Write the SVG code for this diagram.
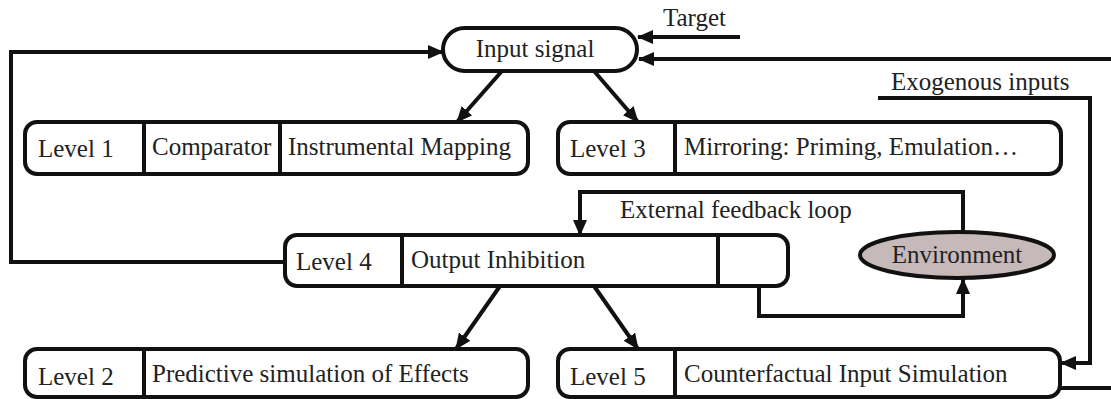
<svg xmlns="http://www.w3.org/2000/svg" width="1111" height="399" viewBox="0 0 1111 399">
  <style>
    .box { fill: #ffffff; stroke: #111111; stroke-width: 4; }
    .div { stroke: #111111; stroke-width: 4; fill: none; }
    .line { stroke: #111111; stroke-width: 4; fill: none; stroke-linejoin: miter; }
    .arr { marker-end: url(#head); }
    .env { fill: #c5b9ba; stroke: #111111; stroke-width: 4; }
    text { font-family: "Liberation Serif", "Times New Roman", serif; font-size: 25px; fill: #222222; }
  </style>
  <defs>
    <marker id="head" markerUnits="userSpaceOnUse" markerWidth="16" markerHeight="14" refX="15" refY="7" orient="auto">
      <path d="M0,0 L16,7 L0,14 z" fill="#111111"/>
    </marker>
  </defs>

  <rect width="1111" height="399" fill="#ffffff"/>

  <!-- connectors -->
  <g id="connectors">
    <!-- feedback from Level 4 back to input -->
    <polyline class="line arr" points="285,262 11,262 11,52 443,52"/>
    <!-- target -->
    <line class="line arr" x1="740" y1="37" x2="638" y2="37"/>
    <!-- return from Level 5 into input -->
    <line class="line arr" x1="1111" y1="59" x2="639" y2="59"/>
    <line class="line" x1="1060" y1="388" x2="1111" y2="388"/>
    <!-- input signal to levels 1 and 3 -->
    <line class="line arr" x1="502" y1="71" x2="457" y2="122"/>
    <line class="line arr" x1="594" y1="71" x2="638" y2="122"/>
    <!-- exogenous inputs -->
    <polyline class="line arr" points="878,98 1090,98 1090,363 1061,363"/>
    <!-- external feedback loop -->
    <polyline class="line arr" points="963,232 963,192 580,192 580,235"/>
    <polyline class="line arr" points="759,286 759,316 963,316 963,279"/>
    <!-- level 4 to levels 2 and 5 -->
    <line class="line arr" x1="500" y1="286" x2="456" y2="349"/>
    <line class="line arr" x1="594" y1="286" x2="638" y2="349"/>
  </g>

  <g id="input-signal">
    <rect class="box" x="443" y="28" width="194" height="43" rx="21.5"/>
    <text x="535" y="57" text-anchor="middle">Input signal</text>
  </g>

  <g id="target-label">
    <text x="663" y="26">Target</text>
  </g>

  <g id="exogenous-label">
    <text x="891" y="90">Exogenous inputs</text>
  </g>

  <g id="level1">
    <rect class="box" x="25" y="122" width="503" height="52" rx="12"/>
    <line class="div" x1="144" y1="122" x2="144" y2="174"/>
    <line class="div" x1="280" y1="122" x2="280" y2="174"/>
    <text x="38" y="157">Level 1</text>
    <text x="152" y="155">Comparator</text>
    <text x="288" y="155">Instrumental Mapping</text>
  </g>

  <g id="level3">
    <rect class="box" x="558" y="122" width="503" height="52" rx="12"/>
    <line class="div" x1="675" y1="122" x2="675" y2="174"/>
    <text x="570" y="157">Level 3</text>
    <text x="684" y="155">Mirroring: Priming, Emulation…</text>
  </g>

  <g id="feedback-label">
    <text x="620" y="218">External feedback loop</text>
  </g>

  <g id="level4">
    <rect class="box" x="285" y="235" width="503" height="51" rx="12"/>
    <line class="div" x1="402" y1="235" x2="402" y2="286"/>
    <line class="div" x1="718" y1="235" x2="718" y2="286"/>
    <text x="296" y="270">Level 4</text>
    <text x="411" y="268">Output Inhibition</text>
  </g>

  <g id="environment">
    <ellipse class="env" cx="957" cy="255" rx="97" ry="23"/>
    <text x="957" y="263" text-anchor="middle">Environment</text>
  </g>

  <g id="level2">
    <rect class="box" x="25" y="349" width="503" height="48" rx="12"/>
    <line class="div" x1="144" y1="349" x2="144" y2="397"/>
    <text x="38" y="385">Level 2</text>
    <text x="152" y="382">Predictive simulation of Effects</text>
  </g>

  <g id="level5">
    <rect class="box" x="558" y="349" width="502" height="48" rx="12"/>
    <line class="div" x1="675" y1="349" x2="675" y2="397"/>
    <text x="570" y="385">Level 5</text>
    <text x="684" y="382">Counterfactual Input Simulation</text>
  </g>
</svg>
